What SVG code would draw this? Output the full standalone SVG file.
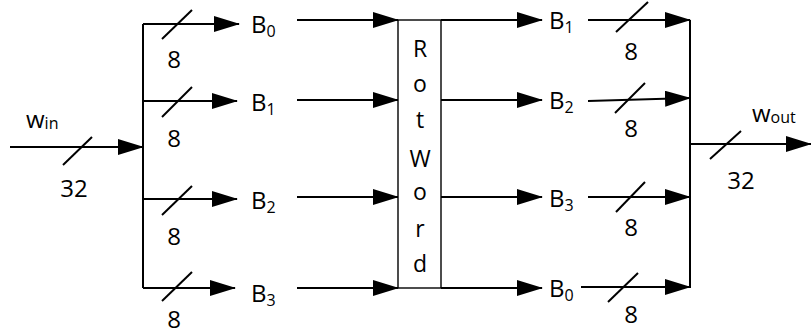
<svg xmlns="http://www.w3.org/2000/svg" width="811" height="335" viewBox="0 0 811 335">
  <style>
    .w { stroke: #000; stroke-width: 2; fill: none; }
    .arr { stroke: #000; stroke-width: 2; fill: none; marker-end: url(#ah); }
    .sl { stroke: #000; stroke-width: 2; fill: none; }
    .box { stroke: #000; stroke-width: 1.4; fill: #fff; }
    text { font-family: "Open Sans", "Noto Sans", sans-serif; fill: #000; }
    .lb { font-size: 24px; }
    .sub { font-size: 16px; }
    .n { font-size: 24px; text-anchor: middle; }
    .rw { font-size: 23px; text-anchor: middle; }
  </style>
  <defs>
    <marker id="ah" markerUnits="userSpaceOnUse" markerWidth="26" markerHeight="16" refX="25" refY="8" orient="auto" viewBox="0 0 26 16">
      <path d="M0,0 L26,8 L0,16 z" fill="#000"/>
    </marker>
  </defs>

  <!-- wires and buses -->
  <g id="connectors">
    <!-- input word into the split bus -->
    <path class="arr" d="M10,147 H143"/>
    <path class="w" d="M143,24 V288"/>
    <path class="arr" d="M143,24 H239"/>
    <path class="arr" d="M143,101 H237"/>
    <path class="arr" d="M143,199 H237"/>
    <path class="arr" d="M143,288 H235"/>
    <!-- bytes into RotWord -->
    <path class="arr" d="M297,20 H398"/>
    <path class="arr" d="M297,100 H398"/>
    <path class="arr" d="M297,197 H398"/>
    <path class="arr" d="M297,288 H398"/>
    <!-- bytes out of RotWord -->
    <path class="arr" d="M441,20 H542"/>
    <path class="arr" d="M441,100 H542"/>
    <path class="arr" d="M441,197 H542"/>
    <path class="arr" d="M441,288 H542"/>
    <!-- bytes into the join bus -->
    <path class="arr" d="M588,20 H690"/>
    <path class="arr" d="M588,101 L690,98"/>
    <path class="arr" d="M588,197 H690"/>
    <path class="arr" d="M581,287 H690"/>
    <path class="w" d="M690,20 V288"/>
    <!-- output word -->
    <path class="arr" d="M690,144 H811"/>
    <!-- bus-width slashes -->
    <path class="sl" d="M63,165 L92,137"/>
    <path class="sl" d="M162,39 L192,10"/>
    <path class="sl" d="M162,117 L192,87"/>
    <path class="sl" d="M162,215 L192,186"/>
    <path class="sl" d="M162,301 L192,272"/>
    <path class="sl" d="M616,32 L648,2"/>
    <path class="sl" d="M615,113 L645,83"/>
    <path class="sl" d="M616,212 L645,182"/>
    <path class="sl" d="M608,302 L638,273"/>
    <path class="sl" d="M710,159 L741,131"/>
  </g>

  <!-- bus widths -->
  <g id="widths">
    <text class="n" x="74" y="197">32</text>
    <text class="n" x="174" y="68">8</text>
    <text class="n" x="174" y="147">8</text>
    <text class="n" x="174" y="245">8</text>
    <text class="n" x="174" y="328">8</text>
    <text class="n" x="631" y="60">8</text>
    <text class="n" x="631" y="137">8</text>
    <text class="n" x="631" y="236">8</text>
    <text class="n" x="631" y="323">8</text>
    <text class="n" x="741" y="189">32</text>
  </g>

  <!-- word labels -->
  <g id="w-in">
    <text class="lb" x="26" y="128">w<tspan class="sub" dy="1">in</tspan></text>
  </g>
  <g id="w-out">
    <text class="lb" x="752" y="122">w<tspan class="sub" dy="1">out</tspan></text>
  </g>

  <!-- input bytes -->
  <g id="in-bytes">
    <text class="lb" x="251" y="33">B<tspan class="sub" dy="4">0</tspan></text>
    <text class="lb" x="251" y="111">B<tspan class="sub" dy="4">1</tspan></text>
    <text class="lb" x="251" y="209">B<tspan class="sub" dy="4">2</tspan></text>
    <text class="lb" x="251" y="302">B<tspan class="sub" dy="4">3</tspan></text>
  </g>

  <!-- rotated output bytes -->
  <g id="out-bytes">
    <text class="lb" x="549" y="29">B<tspan class="sub" dy="4">1</tspan></text>
    <text class="lb" x="549" y="109">B<tspan class="sub" dy="4">2</tspan></text>
    <text class="lb" x="549" y="207">B<tspan class="sub" dy="4">3</tspan></text>
    <text class="lb" x="549" y="297">B<tspan class="sub" dy="4">0</tspan></text>
  </g>

  <!-- RotWord block -->
  <g id="rotword">
    <rect class="box" x="398" y="20" width="43" height="268"/>
    <text class="rw" x="420" y="57">R</text>
    <text class="rw" x="420" y="92">o</text>
    <text class="rw" x="420" y="128">t</text>
    <text class="rw" x="420" y="167">W</text>
    <text class="rw" x="420" y="200">o</text>
    <text class="rw" x="420" y="237">r</text>
    <text class="rw" x="420" y="272">d</text>
  </g>
</svg>
